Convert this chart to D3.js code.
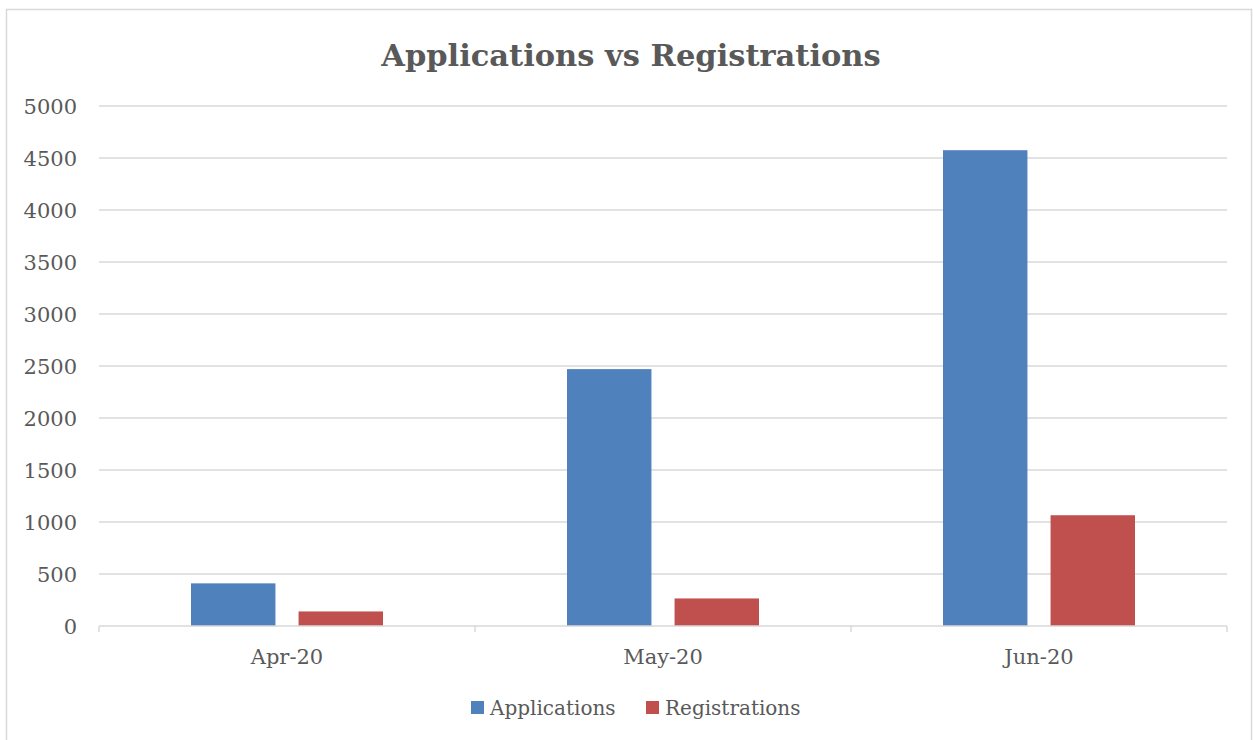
<!DOCTYPE html>
<html>
<head>
<meta charset="utf-8">
<script src="https://cdn.jsdelivr.net/npm/d3@7"></script>
<style>
  body { margin: 0; background: #fff; }
  text { font-family: "DejaVu Serif", serif; fill: #595959; }
</style>
</head>
<body>
<script>
(function (d3) {
    "use strict";

    /***** Data *****/
    var months = ["Apr-20", "May-20", "Jun-20"];
    var seriesNames = ["Applications", "Registrations"];
    var applications = [410, 2470, 4575];
    var registrations = [140, 265, 1065];
    var yTicks = [0, 500, 1000, 1500, 2000, 2500, 3000, 3500, 4000, 4500, 5000];
    var colors = ["#4f81bd", "#c0504d"];

    /***** Configuration *****/
    var width = 1253, height = 740;
    var margin = { top: 106, right: 26, bottom: 114, left: 99 };
    var plotW = width - margin.left - margin.right;
    var plotH = height - margin.top - margin.bottom;
    var serif = "'DejaVu Serif', serif";

    var svg = d3.select("body").append("svg")
        .attr("width", width)
        .attr("height", height);

    // outer chart border
    svg.append("rect")
        .attr("x", 6.5).attr("y", 9.5)
        .attr("width", 1245).attr("height", 740)
        .attr("fill", "none")
        .attr("stroke", "#d9d9d9")
        .attr("stroke-width", 1.5);

    svg.append("text")
        .attr("x", 631).attr("y", 66)
        .attr("text-anchor", "middle")
        .style("font-family", serif)
        .style("font-size", "30.5px")
        .style("font-weight", "bold")
        .text("Applications vs Registrations");

    var g = svg.append("g")
        .attr("transform", "translate(" + margin.left + "," + margin.top + ")");

    /***** Scales *****/
    var x0 = d3.scaleBand().domain(months).range([0, plotW]);
    var x1 = d3.scaleBand().domain(seriesNames)
        .range([92, x0.bandwidth() - 92]).paddingInner(0.215);
    var y = d3.scaleLinear().domain([0, 5000]).range([plotH, 0]);

    // gridlines
    g.selectAll(".grid").data(yTicks.slice(1)).enter().append("line")
        .attr("x1", 0).attr("x2", plotW)
        .attr("y1", function (d) { return y(d); })
        .attr("y2", function (d) { return y(d); })
        .attr("stroke", "#d9d9d9")
        .attr("stroke-width", 1.5);

    // y axis labels
    var yAxis = d3.axisLeft(y).tickValues(yTicks).tickSize(0).tickPadding(22)
        .tickFormat(d3.format("d"));
    var yg = g.append("g").call(yAxis);
    yg.select(".domain").remove();
    yg.selectAll("text").style("font-size", "21px").attr("dy", "0.35em")
        .style("font-family", serif).attr("fill", "#595959");

    /***** Bars *****/
    var rows = months.map(function (m, i) {
        return { month: m, values: [applications[i], registrations[i]] };
    });
    var groups = g.selectAll(".month").data(rows).enter().append("g")
        .attr("transform", function (d) { return "translate(" + x0(d.month) + ",0)"; });
    groups.selectAll("rect").data(function (d) {
        return d.values.map(function (v, i) { return { name: seriesNames[i], value: v, i: i }; });
    }).enter().append("rect")
        .attr("x", function (d) { return x1(d.name); })
        .attr("width", x1.bandwidth())
        .attr("y", function (d) { return y(d.value); })
        .attr("height", function (d) { return plotH - y(d.value); })
        .attr("fill", function (d) { return colors[d.i]; });

    // x axis
    var xAxis = d3.axisBottom(x0).tickSize(0).tickPadding(23);
    var xg = g.append("g").attr("transform", "translate(0," + plotH + ")").call(xAxis);
    xg.select(".domain").attr("stroke", "#d9d9d9").attr("stroke-width", 1.5)
        .attr("d", "M0,0H" + plotW);
    xg.selectAll("text").style("font-size", "21px")
        .style("font-family", serif).attr("fill", "#595959");
    g.selectAll(".xtick").data(months.concat([null])).enter().append("line")
        .attr("x1", function (d, i) { return i * x0.bandwidth(); })
        .attr("x2", function (d, i) { return i * x0.bandwidth(); })
        .attr("y1", plotH).attr("y2", plotH + 6)
        .attr("stroke", "#d9d9d9").attr("stroke-width", 1.5);

    /***** Legend *****/
    var legend = svg.append("g").attr("transform", "translate(471,708)");
    var lx = [0, 175];
    seriesNames.forEach(function (name, i) {
        legend.append("rect")
            .attr("x", lx[i]).attr("y", -7)
            .attr("width", 13).attr("height", 13)
            .attr("fill", colors[i]);
        legend.append("text")
            .attr("x", lx[i] + 19).attr("y", 0)
            .attr("dy", "0.35em")
            .style("font-family", serif)
            .style("font-size", "20px")
            .text(name);
    });
})(d3);
</script>
</body>
</html>
